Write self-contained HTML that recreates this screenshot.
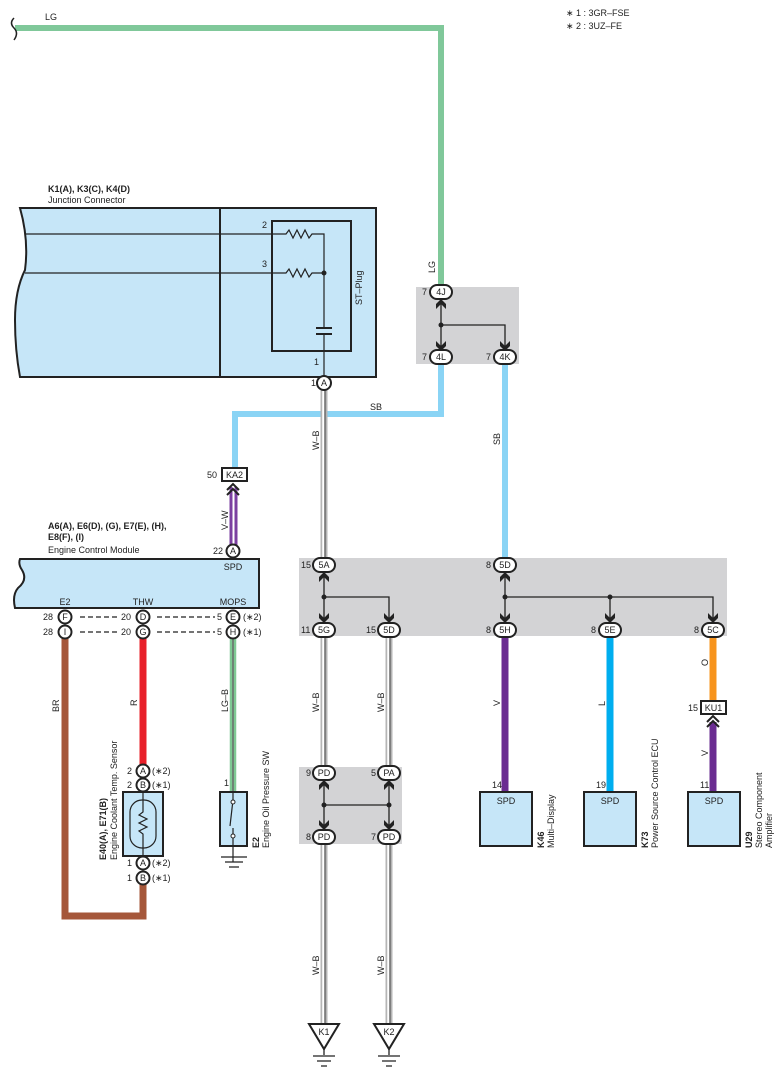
<!DOCTYPE html>
<html><head><meta charset="utf-8"><style>
html,body{margin:0;padding:0;background:#fff;}
svg{display:block;font-family:"Liberation Sans",sans-serif;}
.t{font-size:9px;fill:#222;}
.b{font-size:9px;font-weight:bold;fill:#222;}
.c{font-size:9px;fill:#222;text-anchor:middle;}
</style></head><body>
<svg width="784" height="1079" viewBox="0 0 784 1079" xmlns="http://www.w3.org/2000/svg">
<defs>
<g id="dn"><path d="M-5,-9 L0,-4 L5,-9 L5,-4 L0,1 L-5,-4 Z" fill="#222"/></g>
<g id="up"><path d="M-5,9 L0,4 L5,9 L5,4 L0,-1 L-5,4 Z" fill="#222"/></g>
</defs>
<text class="t" x="566" y="16">∗ 1 : 3GR–FSE</text>
<text class="t" x="566" y="29">∗ 2 : 3UZ–FE</text>
<rect x="416" y="287" width="103" height="77" fill="#d3d3d5"/>
<rect x="299" y="558" width="428" height="78" fill="#d3d3d5"/>
<rect x="299" y="767" width="103" height="77" fill="#d3d3d5"/>
<path d="M15,28 H441 V286" fill="none" stroke="#80c89a" stroke-width="6"/>
<path d="M14,18 q-5,5 0,10 q5,5 0,12" fill="none" stroke="#222" stroke-width="1.5"/>
<text class="t" x="45" y="20">LG</text>
<text class="t" transform="translate(435,273) rotate(-90)">LG</text>
<path d="M441,362 V414 H235 V468" fill="none" stroke="#8ad4f5" stroke-width="6"/>
<path d="M505,362 V560" fill="none" stroke="#8ad4f5" stroke-width="6"/>
<text class="t" x="370" y="410">SB</text>
<text class="t" transform="translate(500,445) rotate(-90)">SB</text>
<text class="b" x="48" y="192">K1(A), K3(C), K4(D)</text>
<text class="t" x="48" y="203">Junction Connector</text>
<path d="M20,208 H376 V377 H20 Q15,350 15,320 Q15,290 25,270 Q29,240 20,208 Z" fill="#c6e6f8" stroke="#222" stroke-width="2"/>
<line x1="220" y1="208" x2="220" y2="377" stroke="#222" stroke-width="2"/>
<rect x="272" y="221" width="79" height="130" fill="none" stroke="#222" stroke-width="2"/>
<path d="M25,234 H286 l3,-4 l4,8 l4,-8 l4,8 l4,-8 l4,8 l3,-4 H324 V377" fill="none" stroke="#222" stroke-width="1.2"/>
<path d="M25,273 H286 l3,-4 l4,8 l4,-8 l4,8 l4,-8 l4,8 l3,-4 H324" fill="none" stroke="#222" stroke-width="1.2"/>
<circle cx="324" cy="273" r="2.5" fill="#222"/>
<rect x="316" y="327" width="16" height="8" fill="#c6e6f8"/>
<line x1="316" y1="328" x2="332" y2="328" stroke="#222" stroke-width="2"/>
<line x1="316" y1="334" x2="332" y2="334" stroke="#222" stroke-width="2"/>
<text class="t" x="262" y="228">2</text>
<text class="t" x="262" y="267">3</text>
<text class="t" x="314" y="365">1</text>
<text class="t" transform="translate(362,305) rotate(-90)">ST–Plug</text>
<g fill="none">
<path d="M324,390 V560 M324,636 V767 M324,844 V1023 M389,636 V767 M389,844 V1023" stroke="#b5b5b5" stroke-width="7"/>
<path d="M324,390 V560 M324,636 V767 M324,844 V1023 M389,636 V767 M389,844 V1023" stroke="#fff" stroke-width="3.5"/>
<path d="M325,390 V560 M325,636 V767 M325,844 V1023 M390,636 V767 M390,844 V1023" stroke="#222" stroke-width="1"/>
</g>
<text class="t" transform="translate(319,450) rotate(-90)">W–B</text>
<text class="t" transform="translate(319,712) rotate(-90)">W–B</text>
<text class="t" transform="translate(384,712) rotate(-90)">W–B</text>
<text class="t" transform="translate(319,975) rotate(-90)">W–B</text>
<text class="t" transform="translate(384,975) rotate(-90)">W–B</text>
<circle cx="324" cy="383" r="7" fill="#fff" stroke="#222" stroke-width="2"/>
<text class="c" x="324" y="386">A</text>
<text class="t" x="311" y="386">1</text>
<path d="M441,300 V350 M441,325 H505 V350" fill="none" stroke="#222" stroke-width="1.3"/>
<circle cx="441" cy="325" r="2.5" fill="#222"/>
<use href="#up" x="441" y="300"/><use href="#dn" x="441" y="350"/><use href="#dn" x="505" y="350"/>
<rect x="222" y="468" width="25" height="13" fill="#fff" stroke="#222" stroke-width="2"/>
<text class="c" x="234.5" y="478">KA2</text>
<text class="t" x="207" y="478">50</text>
<path d="M231,487 V545 M236,487 V545" stroke="#7b3fa0" stroke-width="3"/>
<path d="M227,490 l6,-6 l6,6 M227,495 l6,-6 l6,6" fill="none" stroke="#222" stroke-width="2"/>
<text class="t" transform="translate(228,530) rotate(-90)">V–W</text>
<circle cx="233" cy="551" r="6.5" fill="#fff" stroke="#222" stroke-width="2"/>
<text class="c" x="233" y="554">A</text>
<text class="t" x="213" y="554">22</text>
<text class="b" x="48" y="529">A6(A), E6(D), (G), E7(E), (H),</text>
<text class="b" x="48" y="540">E8(F), (I)</text>
<text class="t" x="48" y="553">Engine Control Module</text>
<path d="M20,559 H259 V608 H15 Q12,595 18,588 Q28,580 22,570 Q18,564 20,559 Z" fill="#c6e6f8" stroke="#222" stroke-width="2"/>
<text class="c" x="233" y="570">SPD</text>
<text class="c" x="65" y="605">E2</text>
<text class="c" x="143" y="605">THW</text>
<text class="c" x="233" y="605">MOPS</text>
<path d="M80,617 H118 M157,617 H215 M80,632 H118 M157,632 H215" stroke="#222" stroke-dasharray="5,3" stroke-width="1.3"/>
<path d="M65,638 V916 H143 V884" fill="none" stroke="#a5573a" stroke-width="7"/>
<path d="M143,638 V765" stroke="#e8202a" stroke-width="7"/>
<path d="M231,638 V793 M235,638 V793" stroke="#7fc894" stroke-width="2.5"/>
<line x1="233" y1="638" x2="233" y2="793" stroke="#222" stroke-width="1"/>
<text class="t" transform="translate(59,712) rotate(-90)">BR</text>
<text class="t" transform="translate(137,706) rotate(-90)">R</text>
<text class="t" transform="translate(228,712) rotate(-90)">LG–B</text>
<g stroke="#222" stroke-width="2" fill="#fff">
<circle cx="65" cy="617" r="6.5"/><circle cx="65" cy="632" r="6.5"/>
<circle cx="143" cy="617" r="6.5"/><circle cx="143" cy="632" r="6.5"/>
<circle cx="233" cy="617" r="6.5"/><circle cx="233" cy="632" r="6.5"/>
<circle cx="143" cy="771" r="6.5"/><circle cx="143" cy="785" r="6.5"/>
<circle cx="143" cy="863" r="6.5"/><circle cx="143" cy="878" r="6.5"/>
</g>
<text class="c" x="65" y="620">F</text><text class="c" x="65" y="635">I</text>
<text class="c" x="143" y="620">D</text><text class="c" x="143" y="635">G</text>
<text class="c" x="233" y="620">E</text><text class="c" x="233" y="635">H</text>
<text class="t" x="43" y="620">28</text><text class="t" x="43" y="635">28</text>
<text class="t" x="121" y="620">20</text><text class="t" x="121" y="635">20</text>
<text class="t" x="217" y="620">5</text><text class="t" x="217" y="635">5</text>
<text class="t" x="243" y="620">(∗2)</text><text class="t" x="243" y="635">(∗1)</text>
<text class="c" x="143" y="774">A</text><text class="c" x="143" y="788">B</text>
<text class="c" x="143" y="866">A</text><text class="c" x="143" y="881">B</text>
<text class="t" x="127" y="774">2</text><text class="t" x="127" y="788">2</text>
<text class="t" x="127" y="866">1</text><text class="t" x="127" y="881">1</text>
<text class="t" x="152" y="774">(∗2)</text><text class="t" x="152" y="788">(∗1)</text>
<text class="t" x="152" y="866">(∗2)</text><text class="t" x="152" y="881">(∗1)</text>
<rect x="123" y="792" width="40" height="64" fill="#c6e6f8" stroke="#222" stroke-width="2"/>
<rect x="130" y="800" width="26" height="48" rx="12" fill="none" stroke="#222" stroke-width="1.2"/>
<path d="M143,792 V812 l-4,3 l8,4 l-8,4 l8,4 l-8,4 l4,3 V856" fill="none" stroke="#222" stroke-width="1.2"/>
<text class="b" transform="translate(106,860) rotate(-90)">E40(A), E71(B)</text>
<text class="t" transform="translate(117,860) rotate(-90)">Engine Coolant Temp.  Sensor</text>
<text class="t" x="224" y="786">1</text>
<rect x="220" y="792" width="27" height="54" fill="#c6e6f8" stroke="#222" stroke-width="2"/>
<path d="M233,793 V800 L230,826 M233,828 V862 M221,857 H247 M225,862 H243 M229,867 H239" fill="none" stroke="#222" stroke-width="1.2"/>
<circle cx="233" cy="802" r="2" fill="#fff" stroke="#222"/><circle cx="233" cy="836" r="2" fill="#fff" stroke="#222"/>
<text class="b" transform="translate(259,848) rotate(-90)">E2</text>
<text class="t" transform="translate(269,848) rotate(-90)">Engine Oil Pressure SW</text>
<path d="M324,573 V622 M324,597 H389 V622 M505,573 V622 M505,597 H713 V622 M610,597 V622" fill="none" stroke="#222" stroke-width="1.3"/>
<circle cx="324" cy="597" r="2.5" fill="#222"/><circle cx="505" cy="597" r="2.5" fill="#222"/><circle cx="610" cy="597" r="2.5" fill="#222"/>
<use href="#up" x="324" y="573"/><use href="#up" x="505" y="573"/>
<use href="#dn" x="324" y="622"/><use href="#dn" x="389" y="622"/><use href="#dn" x="505" y="622"/><use href="#dn" x="610" y="622"/><use href="#dn" x="713" y="622"/>
<path d="M324,781 V829 M389,781 V829 M324,805 H389" fill="none" stroke="#222" stroke-width="1.3"/>
<circle cx="324" cy="805" r="2.5" fill="#222"/><circle cx="389" cy="805" r="2.5" fill="#222"/>
<use href="#up" x="324" y="781"/><use href="#up" x="389" y="781"/><use href="#dn" x="324" y="829"/><use href="#dn" x="389" y="829"/>
<path d="M505,636 V793" stroke="#6a2c91" stroke-width="7"/>
<path d="M610,636 V793" stroke="#00aeef" stroke-width="7"/>
<path d="M713,636 V700" stroke="#f7941d" stroke-width="7"/>
<path d="M713,722 V793" stroke="#6a2c91" stroke-width="7"/>
<path d="M707,722 l6,-6 l6,6 M707,727 l6,-6 l6,6" fill="none" stroke="#222" stroke-width="2"/>
<text class="t" transform="translate(500,706) rotate(-90)">V</text>
<text class="t" transform="translate(605,706) rotate(-90)">L</text>
<text class="t" transform="translate(708,666) rotate(-90)">O</text>
<text class="t" transform="translate(708,756) rotate(-90)">V</text>
<rect x="701" y="701" width="25" height="13" fill="#fff" stroke="#222" stroke-width="2"/>
<text class="c" x="713.5" y="711">KU1</text>
<text class="t" x="688" y="711">15</text>
<g stroke="#222" stroke-width="2" fill="#fff">
<rect x="430" y="285" width="22" height="14" rx="7"/><rect x="430" y="350" width="22" height="14" rx="7"/><rect x="494" y="350" width="22" height="14" rx="7"/>
<rect x="313" y="558" width="22" height="14" rx="7"/><rect x="494" y="558" width="22" height="14" rx="7"/>
<rect x="313" y="623" width="22" height="14" rx="7"/><rect x="378" y="623" width="22" height="14" rx="7"/><rect x="494" y="623" width="22" height="14" rx="7"/><rect x="599" y="623" width="22" height="14" rx="7"/><rect x="702" y="623" width="22" height="14" rx="7"/>
<rect x="313" y="766" width="22" height="14" rx="7"/><rect x="378" y="766" width="22" height="14" rx="7"/>
<rect x="313" y="830" width="22" height="14" rx="7"/><rect x="378" y="830" width="22" height="14" rx="7"/>
</g>
<text class="c" x="441" y="295">4J</text><text class="c" x="441" y="360">4L</text><text class="c" x="505" y="360">4K</text>
<text class="t" x="422" y="295">7</text><text class="t" x="422" y="360">7</text><text class="t" x="486" y="360">7</text>
<text class="c" x="324" y="568">5A</text><text class="c" x="505" y="568">5D</text>
<text class="t" x="301" y="568">15</text><text class="t" x="486" y="568">8</text>
<text class="c" x="324" y="633">5G</text><text class="c" x="389" y="633">5D</text><text class="c" x="505" y="633">5H</text><text class="c" x="610" y="633">5E</text><text class="c" x="713" y="633">5C</text>
<text class="t" x="301" y="633">11</text><text class="t" x="366" y="633">15</text><text class="t" x="486" y="633">8</text><text class="t" x="591" y="633">8</text><text class="t" x="694" y="633">8</text>
<text class="c" x="324" y="776">PD</text><text class="c" x="389" y="776">PA</text>
<text class="t" x="306" y="776">9</text><text class="t" x="371" y="776">5</text>
<text class="c" x="324" y="840">PD</text><text class="c" x="389" y="840">PD</text>
<text class="t" x="306" y="840">8</text><text class="t" x="371" y="840">7</text>
<g fill="#c6e6f8" stroke="#222" stroke-width="2">
<rect x="480" y="792" width="52" height="54"/><rect x="584" y="792" width="52" height="54"/><rect x="688" y="792" width="52" height="54"/>
</g>
<text class="c" x="506" y="804">SPD</text><text class="c" x="610" y="804">SPD</text><text class="c" x="714" y="804">SPD</text>
<text class="t" x="492" y="788">14</text><text class="t" x="596" y="788">19</text><text class="t" x="700" y="788">11</text>
<text class="b" transform="translate(544,848) rotate(-90)">K46</text>
<text class="t" transform="translate(554,848) rotate(-90)">Multi–Display</text>
<text class="b" transform="translate(648,848) rotate(-90)">K73</text>
<text class="t" transform="translate(658,848) rotate(-90)">Power Source Control ECU</text>
<text class="b" transform="translate(752,848) rotate(-90)">U29</text>
<text class="t" transform="translate(762,848) rotate(-90)">Stereo Component</text>
<text class="t" transform="translate(772,848) rotate(-90)">Amplifier</text>
<g fill="#fff" stroke="#222" stroke-width="2">
<path d="M309,1024 H339 L324,1049 Z"/><path d="M374,1024 H404 L389,1049 Z"/>
</g>
<path d="M324,1049 V1055 M313,1056 H335 M317,1061 H331 M321,1066 H327 M389,1049 V1055 M378,1056 H400 M382,1061 H396 M386,1066 H392" stroke="#222" stroke-width="1.3"/>
<text class="c" x="324" y="1035">K1</text><text class="c" x="389" y="1035">K2</text>
</svg>
</body></html>
